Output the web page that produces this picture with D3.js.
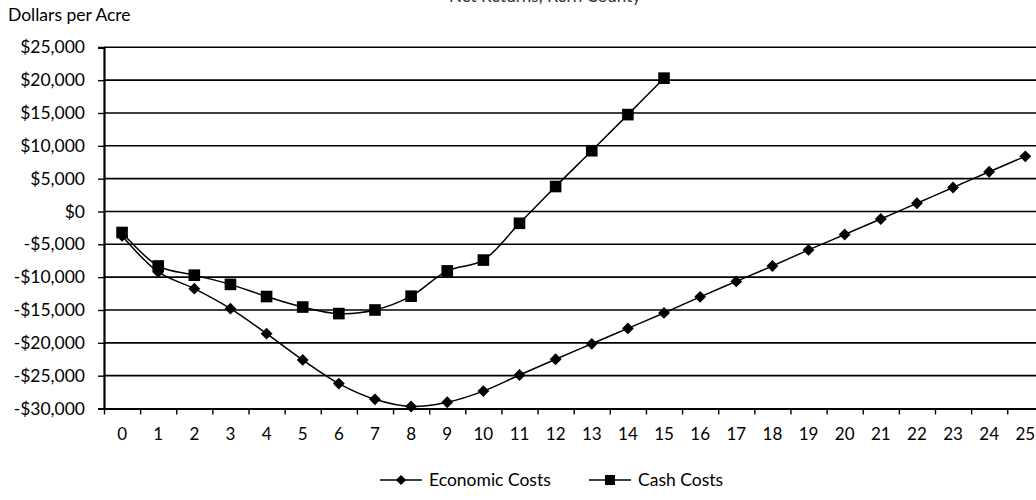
<!DOCTYPE html>
<html>
<head>
<meta charset="utf-8">
<script src="https://cdn.jsdelivr.net/npm/d3@7"></script>
<style>
  html, body { margin: 0; padding: 0; background: #fff; }
  svg { display: block; font-family: Lato, "Open Sans", sans-serif; }
</style>
</head>
<body>
<svg id="chart" width="1036" height="500"></svg>
<script>
// Years since planting
const years = d3.range(0, 26).map(String);

// Cumulative net returns, dollars per acre
const economicCosts = [-3700, -9200, -11750, -14800, -18600, -22600, -26200, -28600, -29700, -29050,
  -27350, -24900, -22500, -20150, -17800, -15450, -13000, -10650, -8300, -5850,
  -3500, -1150, 1250, 3650, 6050, 8400];
const cashCosts = [-3200, -8300, -9700, -11100, -12950, -14550, -15550, -15000, -12900, -9050,
  -7400, -1800, 3800, 9250, 14750, 20300];

const yTicks = [-30000, -25000, -20000, -15000, -10000, -5000, 0, 5000, 10000, 15000, 20000, 25000];

// Diamonds are squares turned 45 degrees
const series = [
  { name: "Economic Costs", values: economicCosts, size: 70, rotate: 45 },
  { name: "Cash Costs", values: cashCosts, size: 135, rotate: 0 }
];

const svg = d3.select("#chart");
const plotLeft = 104, plotTop = 47.3, plotBottom = 408.5;
const step = 36.13;
const plotRight = plotLeft + step * years.length;

const x = d3.scaleBand().domain(years).range([plotLeft, plotRight]).paddingInner(0).paddingOuter(0);
const xEdge = d3.scaleLinear().domain([0, years.length]).range([plotLeft, plotRight]);
const y = d3.scaleLinear().domain([-30000, 25000]).range([plotBottom, plotTop]);

const fmt = v => (v < 0 ? "-$" : "$") + d3.format(",")(Math.abs(v));
const fontSize = 17.5;

// Title (sits above the top edge)
svg.append("text")
  .attr("x", 545).attr("y", 2)
  .attr("text-anchor", "middle")
  .attr("font-size", 17)
  .attr("fill", "#333")
  .text("Net Returns, Kern County");

// Y axis title
svg.append("text")
  .attr("x", 8).attr("y", 20.5)
  .attr("font-size", fontSize)
  .attr("fill", "#000")
  .text("Dollars per Acre");

// Horizontal gridlines
svg.append("g")
  .selectAll("line")
  .data(yTicks.filter(t => t > -30000))
  .join("line")
  .attr("x1", plotLeft).attr("x2", 1036)
  .attr("y1", d => y(d)).attr("y2", d => y(d))
  .attr("stroke", "#000").attr("stroke-width", 1.6);

// Y axis
const yAxis = svg.append("g")
  .attr("transform", `translate(${plotLeft},0)`)
  .call(d3.axisLeft(y).tickValues(yTicks).tickFormat(fmt).tickSize(6).tickPadding(13));
yAxis.select(".domain").attr("stroke", "#000").attr("stroke-width", 2.2);
yAxis.selectAll(".tick line").attr("stroke", "#000").attr("stroke-width", 1.4);
yAxis.selectAll(".tick text")
  .attr("font-family", "Lato, sans-serif").attr("font-size", fontSize).attr("fill", "#000");

// X axis: tick marks between categories
const xTicks = svg.append("g")
  .attr("transform", `translate(0,${plotBottom})`)
  .call(d3.axisBottom(xEdge).tickValues(d3.range(0, years.length + 1)).tickFormat("").tickSize(6).tickSizeOuter(0));
xTicks.select(".domain").attr("stroke", "#000").attr("stroke-width", 2.2);
xTicks.selectAll(".tick line").attr("stroke", "#000").attr("stroke-width", 1.4);

// X axis: category labels
const xLabels = svg.append("g")
  .attr("transform", `translate(0,${plotBottom})`)
  .call(d3.axisBottom(x).tickSize(0).tickPadding(19.5));
xLabels.select(".domain").remove();
xLabels.selectAll(".tick text")
  .attr("font-family", "Lato, sans-serif").attr("font-size", 17).attr("fill", "#000");

// Series lines and markers
const line = d3.line()
  .x((d, i) => x(years[i]) + x.bandwidth() / 2)
  .y(d => y(d))
  .curve(d3.curveCatmullRom.alpha(0.5));

series.forEach(s => {
  svg.append("path")
    .datum(s.values)
    .attr("d", line)
    .attr("fill", "none")
    .attr("stroke", "#000")
    .attr("stroke-width", 1.5);
  svg.append("g")
    .selectAll("path")
    .data(s.values)
    .join("path")
    .attr("transform", (d, i) => `translate(${x(years[i]) + x.bandwidth() / 2},${y(d)}) rotate(${s.rotate})`)
    .attr("d", d3.symbol().type(d3.symbolSquare).size(s.size))
    .attr("fill", "#000");
});

// Legend
const legendItems = [
  { s: series[0], x: 380 },
  { s: series[1], x: 589 }
];
const lg = svg.append("g");
legendItems.forEach(item => {
  const g = lg.append("g").attr("transform", `translate(${item.x},480)`);
  g.append("line").attr("x1", 0).attr("x2", 42).attr("y1", 0).attr("y2", 0)
    .attr("stroke", "#000").attr("stroke-width", 1.5);
  g.append("path").attr("transform", `translate(21,0) rotate(${item.s.rotate})`)
    .attr("d", d3.symbol().type(d3.symbolSquare).size(item.s.size * 0.75)).attr("fill", "#000");
  g.append("text").attr("x", 49).attr("y", 6)
    .attr("font-size", fontSize).attr("fill", "#000")
    .text(item.s.name);
});
</script>
</body>
</html>
